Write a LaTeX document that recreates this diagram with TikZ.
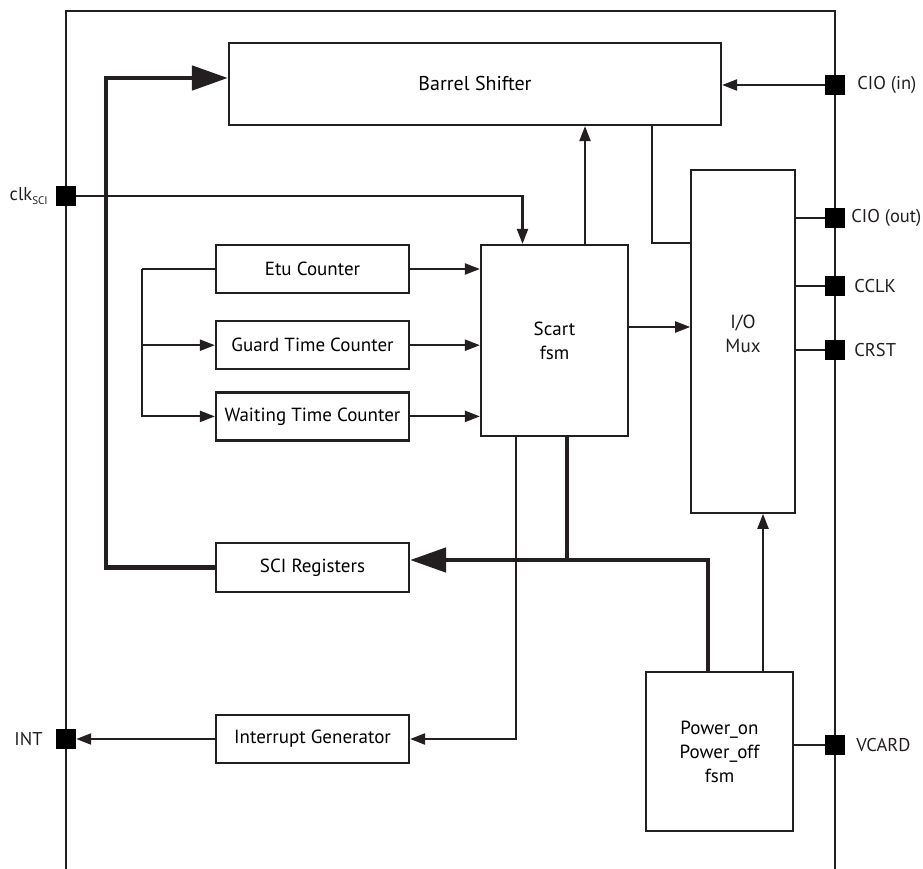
\documentclass[tikz,border=0pt]{standalone}
\usepackage{fontspec}
\setmainfont{PT Sans}
\usepackage{tikz}
\usetikzlibrary{arrows.meta,positioning}
\definecolor{ink}{RGB}{35,31,32}

\begin{document}
\begin{tikzpicture}[
  x=1pt, y=-1pt,
  >={Triangle[length=15pt,width=11pt]},
  line/.style={draw=ink, line width=2.1pt},
  box/.style={rectangle, draw=ink, line width=2.2pt, fill=white, align=center, font=\fontsize{19}{24}\selectfont, inner sep=0pt},
  counter/.style={box, minimum width=193pt, minimum height=48pt},
  pin/.style={rectangle, fill=black, draw=none, minimum size=20pt, inner sep=0pt},
  pinlabel/.style={font=\fontsize{18.5}{22}\selectfont, inner sep=0pt, text=ink},
  bus/.style={line, line width=4.8pt},
  bigtip/.style={-{Triangle[length=36pt,width=24pt]}}
]
\useasboundingbox (0,0) rectangle (923,869);

\node[box, minimum width=492pt, minimum height=82pt, font=\fontsize{20}{24}\selectfont] (shifter) at (475,84) {Barrel Shifter};
\node[box, minimum width=147pt, minimum height=191pt] (scart) at (554.5,340.5) {Scart\\fsm};
\node[box, line width=1.6pt, minimum width=104pt, minimum height=343pt] (mux) at (743,341.5) {};
\node[align=center, font=\fontsize{19}{24}\selectfont, text=ink, inner sep=0pt] (muxtext) at (743,334) {I/O\\Mux};
\node[counter] (etu) at (312.5,269) {Etu Counter};
\node[counter, below=26pt of etu] (guard) {Guard Time Counter};
\node[counter, below=21pt of guard] (wait) {Waiting Time Counter};
\node[counter, minimum height=49pt] (sciregs) at (312.5,567.5) {SCI Registers};
\node[counter] (intgen) at (312.5,739) {Interrupt Generator};
\node[box, minimum width=147pt, minimum height=159pt] (power) at (719.5,751.5) {Power\_on\\Power\_off\\fsm};

\draw[line] (66,869) |- (835,11) -- (835,869);

\node[pin] (pclk) at (66,196) {};
\node[pin] (pint) at (66,739) {};
\node[pin] (pcioin) at (835,85) {};
\node[pin] (pcioout) at (835,218) {};
\node[pin] (pcclk) at (835,286) {};
\node[pin] (pcrst) at (835,350) {};
\node[pin] (pvcard) at (835,745) {};

\node[pinlabel, left=8pt of pclk] (lclk) {clk\raisebox{-0.45ex}{\fontsize{11}{12}\selectfont SCI}};
\node[pinlabel, left=13pt of pint] (lint) {INT};
\node[pinlabel, right=12pt of pcioin] (lcioin) {CIO (in)};
\node[pinlabel, right=6pt of pcioout] (lcioout) {CIO (out)};
\node[pinlabel, right=9pt of pcclk] (lcclk) {CCLK};
\node[pinlabel, right=9pt of pcrst] (lcrst) {CRST};
\node[pinlabel, right=11pt of pvcard] (lvcard) {VCARD};

\coordinate (busL) at (106,78);
\draw[bus, bigtip] (sciregs.west) -| (busL) -- (busL -| shifter.west);

\draw[line, ->] (pclk.east) -| ([xshift=-32pt]scart.north);
\draw[line, ->] (pcioin.west) -- (pcioin.west -| shifter.east);
\draw[line, ->] ([xshift=30.5pt]scart.north) -- ([xshift=30.5pt]scart.north |- shifter.south);
\draw[line] ([xshift=177pt]shifter.south) |- (mux.west |- 0,243);
\draw[line, ->] (scart.east |- 0,327) -- (mux.west |- 0,327);

\draw[line, ->] (etu.east) -- (etu.east -| scart.west);
\draw[line, ->] (guard.east) -- (guard.east -| scart.west);
\draw[line, ->] (wait.east) -- (wait.east -| scart.west);
\draw[line] (etu.west) -- ++(-73pt,0) coordinate (br);
\draw[line, ->] (br) |- (guard.west);
\draw[line, ->] (br) |- (wait.west);

\draw[line] (mux.east |- pcioout) -- (pcioout.west);
\draw[line] (mux.east |- pcclk) -- (pcclk.west);
\draw[line] (mux.east |- pcrst) -- (pcrst.west);

\draw[bus] ([xshift=12.5pt]scart.south) -- ([xshift=12.5pt]scart.south |- 0,560);
\draw[bus, bigtip] ([xshift=-11.5pt]power.north) |- (sciregs.east |- 0,560);
\draw[line, ->] ([xshift=-38.5pt]scart.south) |- (intgen.east);
\draw[line, ->] (intgen.west) -- (pint.east);
\draw[line, ->] ([xshift=43.5pt]power.north) -- ([xshift=43.5pt]power.north |- mux.south);
\draw[line] (power.east |- pvcard) -- (pvcard.west);
\end{tikzpicture}
\end{document}
